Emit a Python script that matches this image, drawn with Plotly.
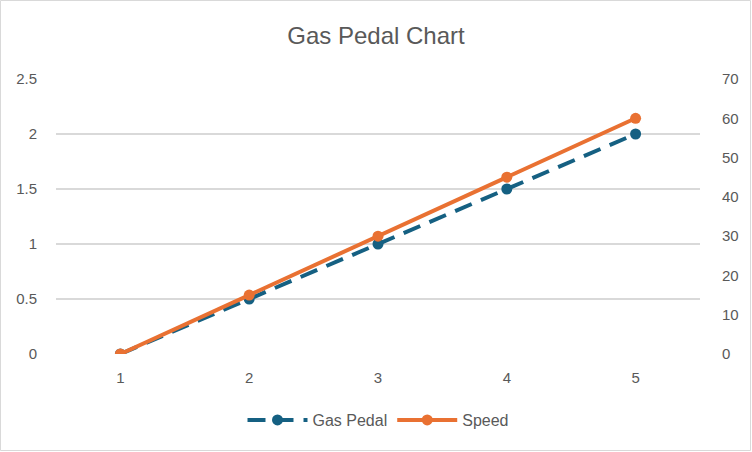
import plotly.graph_objects as go

categories = [1, 2, 3, 4, 5]
gas_pedal = [0, 0.5, 1, 1.5, 2]
speed = [0, 15, 30, 45, 60]
left_ticks = [0, 0.5, 1, 1.5, 2, 2.5]
right_ticks = [0, 10, 20, 30, 40, 50, 60, 70]

W, H = 752, 452
ml, mr, mt, mb = 56, 52, 79, 98
pw, ph = W - ml - mr, H - mt - mb

TXT = "#595959"
GRID = "#D9D9D9"
FONT = "Liberation Sans"

fig = go.Figure()
fig.add_trace(go.Scatter(
    x=categories, y=gas_pedal, name="Gas Pedal", mode="lines+markers",
    line=dict(color="#156082", width=4, dash="18px,10px"),
    marker=dict(color="#156082", size=11), yaxis="y"))
fig.add_trace(go.Scatter(
    x=categories, y=speed, name="Speed", mode="lines+markers",
    line=dict(color="#E97132", width=4),
    marker=dict(color="#E97132", size=11), yaxis="y2"))

fig.update_layout(
    width=W, height=H,
    margin=dict(l=ml, r=mr, t=mt, b=mb),
    paper_bgcolor="white", plot_bgcolor="white",
    font=dict(family=FONT, color=TXT, size=15),
    title=dict(text="Gas Pedal Chart", x=0.5, xanchor="center", y=1 - 36 / H,
               yanchor="middle", font=dict(size=24, color=TXT, family=FONT)),
    xaxis=dict(range=[0.5, 5.5], tickvals=categories, showgrid=False, zeroline=False,
               showline=False, ticks="outside", ticklen=10, tickcolor="rgba(0,0,0,0)",
               tickfont=dict(size=15, color=TXT)),
    yaxis=dict(range=[0, 2.5], tickvals=left_ticks, ticktext=[str(v) for v in left_ticks],
               showgrid=True, gridcolor=GRID, gridwidth=1.5, zeroline=False, showline=False,
               ticks="outside", ticklen=15, tickcolor="rgba(0,0,0,0)",
               tickfont=dict(size=15, color=TXT)),
    yaxis2=dict(range=[0, 70], tickvals=right_ticks, overlaying="y", side="right",
                showgrid=False, zeroline=False, showline=False,
                ticks="outside", ticklen=18, tickcolor="rgba(0,0,0,0)",
                tickfont=dict(size=15, color=TXT)),
    legend=dict(orientation="h", x=0.5, xanchor="center", y=-(420 - 354) / ph,
                yanchor="middle", font=dict(size=16, color=TXT), itemwidth=60,
                bgcolor="rgba(0,0,0,0)"),
    shapes=[dict(type="rect", xref="paper", yref="paper",
                 x0=-(ml - 0.5) / pw, x1=1 + (mr - 1.5) / pw,
                 y0=-(mb - 1.5) / ph, y1=1 + (mt - 0.5) / ph,
                 line=dict(color=GRID, width=1), layer="below")],
)

fig.write_html("out.html", config={"displayModeBar": False},
               post_script="document.body.style.margin='0';")
